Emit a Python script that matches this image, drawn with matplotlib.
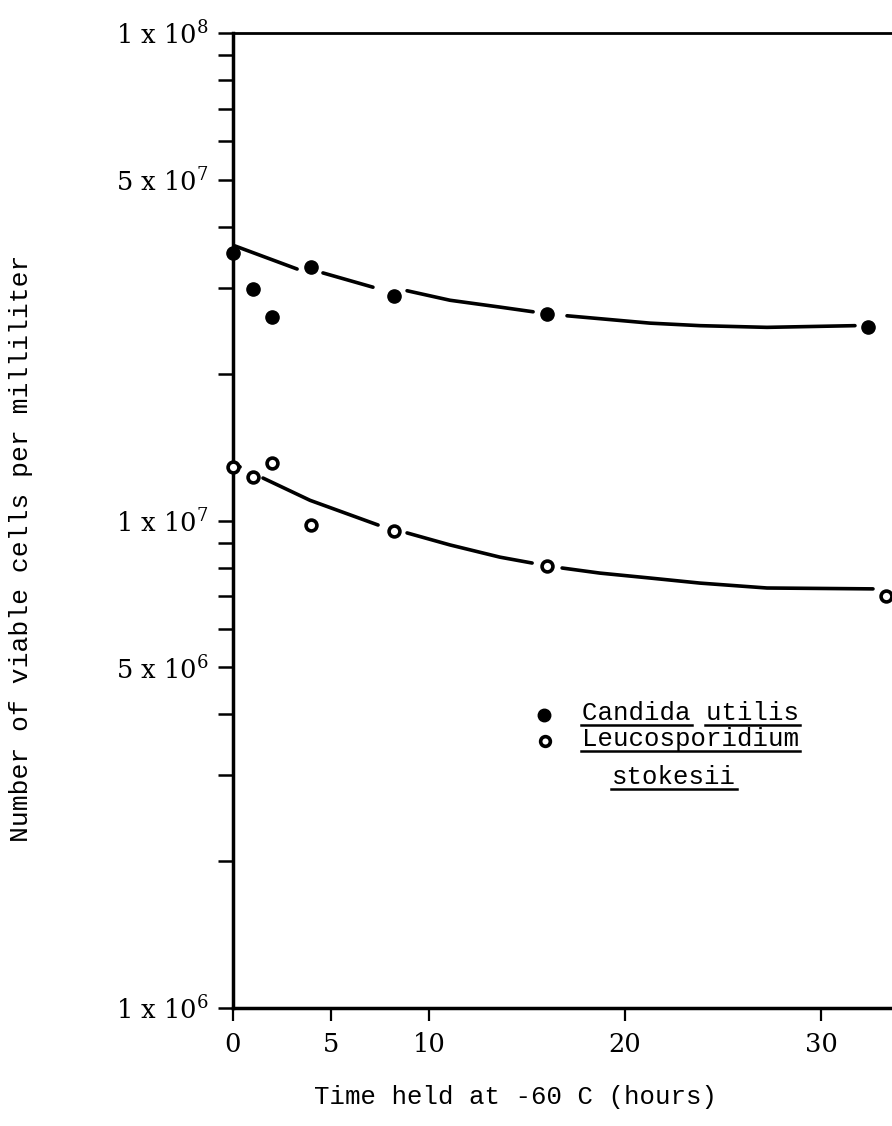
import numpy as np
import matplotlib
matplotlib.use("Agg")
import matplotlib.pyplot as plt
from matplotlib.ticker import FixedLocator, FixedFormatter, LogLocator, NullFormatter
from matplotlib.lines import Line2D
from matplotlib.transforms import IdentityTransform

# Viable cell counts (cells per ml) after holding at -60 C
time_candida = [0, 1, 2, 4, 8.2, 16, 32.4]
cells_candida = [3.54e7, 2.99e7, 2.62e7, 3.31e7, 2.89e7, 2.65e7, 2.49e7]

time_leuco = [0, 1, 2, 4, 8.2, 16, 33.3]
cells_leuco = [1.29e7, 1.23e7, 1.31e7, 9.79e6, 9.52e6, 8.06e6, 7.0e6]

# Hand-drawn trend lines; NaN entries break the stroke into dashes
nan = float("nan")
fit_time_candida = [0, 1.38, 3.27, nan, 4.59, 7.14, nan, 8.88, 11.07, 13.62, 15.31,
                    nan, 17.04, 21.28, 23.83, 27.24, 31.73]
fit_cells_candida = [3.67e7, 3.50e7, 3.28e7, nan, 3.22e7, 3.01e7, nan, 2.96e7, 2.83e7,
                     2.74e7, 2.68e7, nan, 2.63e7, 2.54e7, 2.51e7, 2.49e7, 2.51e7]

fit_time_leuco = [0, 0.36, nan, 1.53, 3.93, 7.40, nan, 8.88, 11.07, 13.62, 15.26,
                  nan, 16.79, 18.72, 21.28, 23.83, 27.24, 32.65]
fit_cells_leuco = [1.318e7, 1.288e7, nan, 1.222e7, 1.10e7, 9.79e6, nan, 9.43e6, 8.91e6,
                   8.41e6, 8.18e6, nan, 7.99e6, 7.80e6, 7.62e6, 7.44e6, 7.27e6, 7.24e6]

x_ticks = [0, 5, 10, 20, 30]
x_tick_labels = ["0", "5", "10", "20", "30"]
y_ticks = [1e6, 5e6, 1e7, 5e7, 1e8]
y_tick_labels = ["1 x 10$^{6}$", "5 x 10$^{6}$", "1 x 10$^{7}$", "5 x 10$^{7}$", "1 x 10$^{8}$"]

x_label = "Time held at -60 C (hours)"
y_label = "Number of viable cells per milliliter"
legend_lines = ["Candida utilis", "Leucosporidium", "stokesii"]

plt.rcParams["mathtext.fontset"] = "dejavuserif"
W, H = 892, 1126
fig = plt.figure(figsize=(W / 100, H / 100), dpi=100)
fig.patch.set_facecolor("white")


def fx(px):
    return px / W


def fy(py):
    return 1 - py / H


ax = fig.add_axes([fx(233), fy(1008), 1 - fx(233), fy(33) - fy(1008)])
ax.set_yscale("log")
ax.set_xlim(0, 33.62)
ax.set_ylim(1e6, 1e8)

ink = "black"
ax.plot(fit_time_candida, fit_cells_candida, color=ink, lw=2.6, solid_capstyle="round")
ax.plot(fit_time_leuco, fit_cells_leuco, color=ink, lw=2.6, solid_capstyle="round")
ax.plot(time_candida, cells_candida, "o", color=ink, ms=9.5, clip_on=False, zorder=3)
ax.plot(time_leuco, cells_leuco, "o", mfc="white", mec=ink, mew=2.6, ms=7.8,
        clip_on=False, zorder=3)

ax.spines["right"].set_visible(False)
ax.spines["left"].set_linewidth(2.5)
ax.spines["bottom"].set_linewidth(2.5)
ax.spines["top"].set_linewidth(2.0)

tick_font = {"family": "DejaVu Serif", "size": 18.5}
ax.xaxis.set_major_locator(FixedLocator(x_ticks))
ax.xaxis.set_major_formatter(FixedFormatter(x_tick_labels))
ax.yaxis.set_major_locator(FixedLocator(y_ticks))
ax.yaxis.set_major_formatter(FixedFormatter(y_tick_labels))
ax.yaxis.set_minor_locator(LogLocator(base=10, subs=np.arange(2, 10)))
ax.yaxis.set_minor_formatter(NullFormatter())
ax.tick_params(axis="y", which="both", direction="out", length=10.8, width=1.8, pad=7)
ax.tick_params(axis="x", which="major", direction="out", length=9, width=1.6, pad=8)
for lab in ax.get_xticklabels() + ax.get_yticklabels():
    lab.set_fontfamily(tick_font["family"])
    lab.set_fontsize(tick_font["size"])

mono = "Liberation Mono"
fig.text(fx(516), fy(1097), x_label, family=mono, fontsize=18.5,
         ha="center", va="center")
fig.text(fx(21), fy(548), y_label, family=mono, fontsize=19,
         ha="center", va="center", rotation=90)

# Key
fig.add_artist(Line2D([fx(544)], [fy(715)], marker="o", color=ink, ms=9,
                      transform=fig.transFigure))
fig.add_artist(Line2D([fx(545)], [fy(741)], marker="o", mfc="white", mec=ink, mew=2.6,
                      ms=7, transform=fig.transFigure))

key_specs = [
    (legend_lines[0], 582, 720, [(0, 7), (8, 14)]),
    (legend_lines[1], 582, 746, [(0, 14)]),
    (legend_lines[2], 612, 784, [(0, 8)]),
]
key_texts = []
for s, px, py, spans in key_specs:
    t = fig.text(fx(px), fy(py), s, family=mono, fontsize=18.5,
                 ha="left", va="baseline")
    key_texts.append((t, s, py, spans))

fig.canvas.draw()
renderer = fig.canvas.get_renderer()
for t, s, py, spans in key_texts:
    bb = t.get_window_extent(renderer)
    cw = bb.width / len(s)
    yline = (H - py) - 5
    for a, b in spans:
        fig.add_artist(Line2D([bb.x0 + a * cw - 1, bb.x0 + b * cw + 1], [yline, yline],
                              color=ink, lw=1.8, transform=IdentityTransform()))

fig.savefig("out.png", dpi=100)
